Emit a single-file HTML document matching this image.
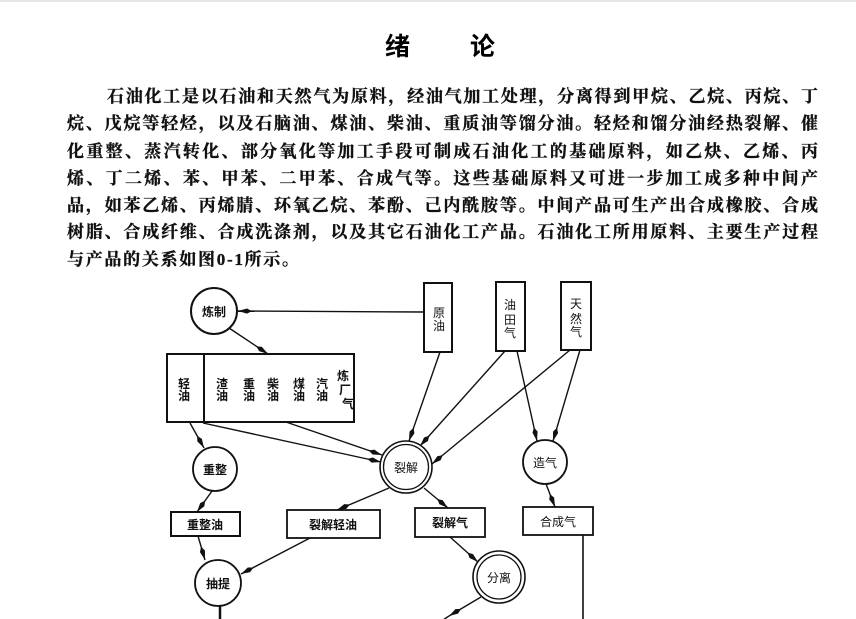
<!DOCTYPE html>
<html>
<head>
<meta charset="utf-8">
<style>
  html,body{margin:0;padding:0;background:#fff;}
  body{width:856px;height:619px;overflow:hidden;position:relative;}
  svg{position:absolute;left:0;top:0;}
  .p{font-family:"Liberation Serif","Noto Serif CJK SC","Noto Sans CJK SC",serif;font-size:17px;font-weight:bold;fill:#111;stroke:#111;stroke-width:0.35;}
  .t{font-family:"Liberation Sans","Noto Sans CJK SC",sans-serif;font-size:25px;font-weight:bold;fill:#000;}
  .d{font-family:"Liberation Sans","Noto Sans CJK SC",sans-serif;font-size:12px;font-weight:bold;fill:#111;}
  .dl{font-family:"Liberation Sans","Noto Sans CJK SC",sans-serif;font-size:12px;font-weight:normal;fill:#111;}
</style>
</head>
<body>
<svg width="856" height="619" viewBox="0 0 856 619" xmlns="http://www.w3.org/2000/svg">
  <defs>
    <marker id="a" markerUnits="userSpaceOnUse" markerWidth="16" markerHeight="8" refX="14" refY="4" orient="auto" viewBox="0 0 16 8">
      <path d="M0,4 L5,1.4 L14,4 L5,6.6 Z" fill="#111"/>
    </marker>
  </defs>
  <rect x="0" y="0" width="856" height="2" fill="#e6e6e6"/>

  <!-- Title -->
  <text class="t" x="385" y="55">绪</text>
  <text class="t" x="470" y="55">论</text>

  <!-- Paragraph -->
  <text class="p" x="107" y="102" textLength="711" lengthAdjust="spacing">石油化工是以石油和天然气为原料，经油气加工处理，分离得到甲烷、乙烷、丙烷、丁</text>
  <text class="p" x="67" y="129" textLength="751" lengthAdjust="spacing">烷、戊烷等轻烃，以及石脑油、煤油、柴油、重质油等馏分油。轻烃和馏分油经热裂解、催</text>
  <text class="p" x="67" y="157" textLength="751" lengthAdjust="spacing">化重整、蒸汽转化、部分氧化等加工手段可制成石油化工的基础原料，如乙炔、乙烯、丙</text>
  <text class="p" x="67" y="184" textLength="751" lengthAdjust="spacing">烯、丁二烯、苯、甲苯、二甲苯、合成气等。这些基础原料又可进一步加工成多种中间产</text>
  <text class="p" x="67" y="211" textLength="751" lengthAdjust="spacing">品，如苯乙烯、丙烯腈、环氧乙烷、苯酚、己内酰胺等。中间产品可生产出合成橡胶、合成</text>
  <text class="p" x="67" y="237.5" textLength="751" lengthAdjust="spacing">树脂、合成纤维、合成洗涤剂，以及其它石油化工产品。石油化工所用原料、主要生产过程</text>
  <text class="p" x="67" y="265" textLength="232" lengthAdjust="spacing">与产品的关系如图0-1所示。</text>

  <!-- Connectors -->
  <g stroke="#111" stroke-width="1.4" fill="none" marker-end="url(#a)">
    <line x1="424" y1="312" x2="238" y2="311"/>
    <line x1="229" y1="328" x2="268" y2="354"/>
    <line x1="190" y1="423" x2="204" y2="448"/>
    <line x1="203" y1="423" x2="381" y2="462"/>
    <line x1="283" y1="421" x2="382" y2="455"/>
    <line x1="440" y1="352" x2="409" y2="441"/>
    <line x1="505" y1="351" x2="420" y2="446"/>
    <line x1="570" y1="350" x2="432" y2="464"/>
    <line x1="517" y1="351" x2="537" y2="441"/>
    <line x1="580" y1="350" x2="553" y2="441"/>
    <line x1="546" y1="484" x2="555" y2="507"/>
    <line x1="389" y1="488" x2="337" y2="510"/>
    <line x1="424" y1="488" x2="448" y2="508"/>
    <line x1="212" y1="491" x2="197" y2="512"/>
    <line x1="198" y1="536" x2="205" y2="560"/>
    <line x1="310" y1="538" x2="241" y2="574"/>
    <line x1="450" y1="537" x2="478" y2="562"/>
    <line x1="481" y1="597" x2="449" y2="616"/>
  </g>
  <g stroke="#111" fill="none">
    <line x1="449" y1="616" x2="443" y2="620" stroke-width="1.4"/>
    <line x1="583" y1="535" x2="583" y2="619" stroke-width="1.6"/>
    <line x1="220" y1="606" x2="220" y2="619" stroke-width="2.5"/>
  </g>

  <!-- Nodes -->
  <g stroke="#111" fill="#fff">
    <circle cx="214" cy="311" r="23" stroke-width="2"/>
    <rect x="424" y="283" width="28" height="69" stroke-width="2"/>
    <rect x="496" y="282" width="29" height="69" stroke-width="2"/>
    <rect x="561" y="282" width="30" height="68" stroke-width="2"/>
    <rect x="167" y="354" width="187" height="68" stroke-width="2"/>
    <line x1="204" y1="354" x2="204" y2="422" stroke-width="2"/>
    <circle cx="215" cy="469" r="22" stroke-width="1.8"/>
    <circle cx="406" cy="467" r="26" stroke-width="1.6"/>
    <circle cx="406" cy="467" r="22.5" stroke-width="1.3"/>
    <circle cx="545" cy="462" r="22" stroke-width="1.8"/>
    <rect x="171" y="512" width="69" height="24" stroke-width="2"/>
    <rect x="287" y="510" width="93" height="28" stroke-width="1.8"/>
    <rect x="415" y="508" width="70" height="29" stroke-width="1.8"/>
    <rect x="523" y="507" width="70" height="28" stroke-width="1.8"/>
    <circle cx="218" cy="583" r="23" stroke-width="1.8"/>
    <circle cx="499" cy="577" r="26" stroke-width="1.6"/>
    <circle cx="499" cy="577" r="22" stroke-width="1.3"/>
  </g>

  <!-- Node labels -->
  <g text-anchor="middle">
    <text class="d" x="214" y="316">炼制</text>
    <text class="dl" x="439" y="317">原</text>
    <text class="dl" x="439" y="330">油</text>
    <text class="dl" x="510" y="309">油</text>
    <text class="dl" x="510" y="324">田</text>
    <text class="dl" x="510" y="337">气</text>
    <text class="dl" x="576" y="308">天</text>
    <text class="dl" x="576" y="323">然</text>
    <text class="dl" x="576" y="336">气</text>

    <text class="d" x="184" y="388">轻</text>
    <text class="d" x="184" y="400">油</text>
    <text class="d" x="222" y="388">渣</text>
    <text class="d" x="222" y="400">油</text>
    <text class="d" x="249" y="388">重</text>
    <text class="d" x="249" y="400">油</text>
    <text class="d" x="273" y="388">柴</text>
    <text class="d" x="273" y="400">油</text>
    <text class="d" x="299" y="388">煤</text>
    <text class="d" x="299" y="400">油</text>
    <text class="d" x="322" y="388">汽</text>
    <text class="d" x="322" y="400">油</text>
    <text class="d" x="343" y="380">炼</text>
    <text class="d" x="345" y="394">厂</text>
    <text class="d" x="348" y="408">气</text>

    <text class="d" x="215" y="474">重整</text>
    <text class="dl" x="406" y="472">裂解</text>
    <text class="dl" x="545" y="467">造气</text>
    <text class="d" x="205" y="529">重整油</text>
    <text class="d" x="333" y="529">裂解轻油</text>
    <text class="d" x="450" y="527">裂解气</text>
    <text class="dl" x="558" y="526">合成气</text>
    <text class="d" x="218" y="588">抽提</text>
    <text class="dl" x="499" y="582">分离</text>
  </g>
</svg>
</body>
</html>
